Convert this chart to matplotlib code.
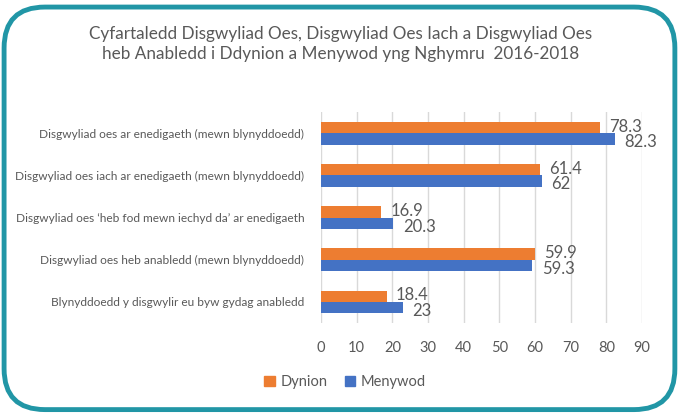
import matplotlib
matplotlib.use('Agg')
import matplotlib.pyplot as plt
from matplotlib.patches import FancyBboxPatch, Patch
import numpy as np

categories = [
    "Disgwyliad oes ar enedigaeth (mewn blynyddoedd)",
    "Disgwyliad oes iach ar enedigaeth (mewn blynyddoedd)",
    "Disgwyliad oes \u2018heb fod mewn iechyd da\u2019 ar enedigaeth",
    "Disgwyliad oes heb anabledd (mewn blynyddoedd)",
    "Blynyddoedd y disgwylir eu byw gydag anabledd",
]
dynion = [78.3, 61.4, 16.9, 59.9, 18.4]
menywod = [82.3, 62, 20.3, 59.3, 23]
dynion_labels = ["78.3", "61.4", "16.9", "59.9", "18.4"]
menywod_labels = ["82.3", "62", "20.3", "59.3", "23"]
xticks = [0, 10, 20, 30, 40, 50, 60, 70, 80, 90]

orange = '#ed7d31'
blue = '#4472c4'
grey = '#595959'

plt.rcParams['font.family'] = ['Lato', 'DejaVu Sans']

fig = plt.figure(figsize=(6.81, 4.15), dpi=100)
ax = fig.add_axes([0.4714, 0.2217, 0.4713, 0.5083])

y = np.arange(len(categories))
h = 0.27
ax.barh(y - h / 2, dynion, height=h, color=orange, zorder=3)
ax.barh(y + h / 2, menywod, height=h, color=blue, zorder=3)

for i in range(len(categories)):
    ax.text(dynion[i] + 2.6, y[i] - h / 2 - 0.02, dynion_labels[i], ha='left', va='center',
            fontsize=12, color=grey, zorder=4)
    ax.text(menywod[i] + 2.6, y[i] + h / 2 + 0.08, menywod_labels[i], ha='left', va='center',
            fontsize=12, color=grey, zorder=4)

ax.set_xlim(0, 90)
ax.set_ylim(len(categories) - 0.5, -0.5)
ax.set_xticks(xticks)
ax.set_yticks(y)
ax.set_yticklabels(categories, fontsize=8.6, color=grey)
ax.tick_params(axis='x', colors=grey, labelsize=10.5, length=0, pad=13)
ax.tick_params(axis='y', length=0, pad=12)
ax.grid(axis='x', color='#d9d9d9', linewidth=1, zorder=0)
for s in ax.spines.values():
    s.set_visible(False)

fig.text(0.5, 0.893, "Cyfartaledd Disgwyliad Oes, Disgwyliad Oes Iach a Disgwyliad Oes\n"
         "heb Anabledd i Ddynion a Menywod yng Nghymru  2016-2018",
         ha='center', va='center', fontsize=12.3, color=grey, linespacing=1.3)

handles = [Patch(color=orange, label='Dynion'), Patch(color=blue, label='Menywod')]
fig.legend(handles=handles, loc='center', bbox_to_anchor=(0.507, 0.08), ncol=2,
           frameon=False, fontsize=10.5, labelcolor=grey, handlelength=0.7, handleheight=0.7,
           columnspacing=1.2, handletextpad=0.4)

border = FancyBboxPatch((0.006, 0.013), 0.985, 0.97, boxstyle='round,pad=0,rounding_size=0.06',
                        transform=fig.transFigure, fill=False, edgecolor='#2196a6',
                        linewidth=3.5, mutation_aspect=681 / 415)
fig.patches.append(border)

fig.savefig('out.png', dpi=100)
